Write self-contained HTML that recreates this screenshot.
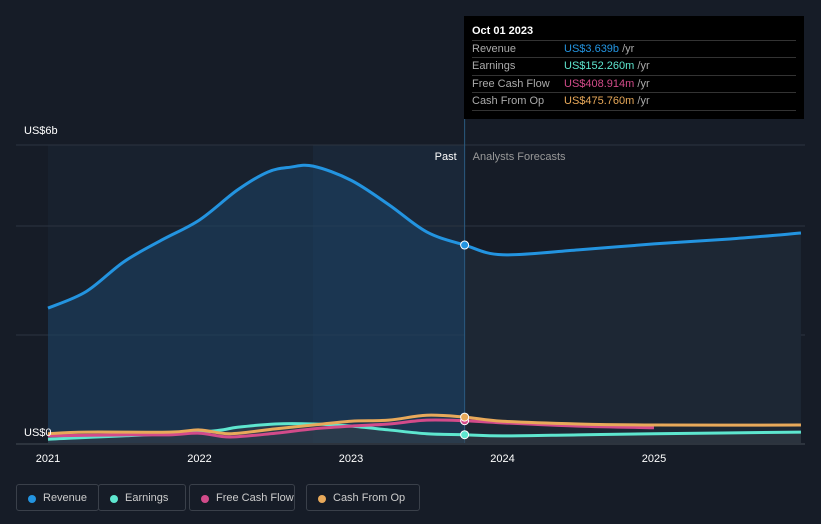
<!DOCTYPE html>
<html><head><meta charset="utf-8"><style>
body{margin:0;width:821px;height:524px;background:#161c27;font-family:"Liberation Sans",sans-serif;overflow:hidden;position:relative}
.tt{position:absolute;left:464px;top:16px;width:340px;height:103px;background:#000;color:#fff;font-size:11px}
.tt .h{position:absolute;left:8px;top:9px;font-weight:bold;font-size:11px}
.row{position:absolute;left:8px;width:324px;border-top:1px solid #333;height:17px;line-height:17px;color:#aaa}
.row span.v{position:absolute;left:92px}
.leg{position:absolute;top:484px;height:27px;border:1px solid #3a404a;border-radius:3px;color:#ccc;font-size:11px;line-height:27px;box-sizing:border-box;padding-left:26px}
.leg i{position:absolute;left:11px;top:10px;width:8px;height:8px;border-radius:50%}
</style></head><body>
<svg id="c" width="821" height="524" style="position:absolute;left:0;top:0"></svg>
<div class="tt">
<div class="h">Oct 01 2023</div>
<div class="row" style="top:24px">Revenue<span class="v"><b style="font-weight:normal;color:#2394e0">US$3.639b</b> /yr</span></div>
<div class="row" style="top:41px">Earnings<span class="v"><b style="font-weight:normal;color:#5ee6cf">US$152.260m</b> /yr</span></div>
<div class="row" style="top:59px">Free Cash Flow<span class="v"><b style="font-weight:normal;color:#d24b8a">US$408.914m</b> /yr</span></div>
<div class="row" style="top:76px;border-bottom:1px solid #333">Cash From Op<span class="v"><b style="font-weight:normal;color:#e8a95a">US$475.760m</b> /yr</span></div>
</div>
<div class="leg" style="left:16px;width:83px"><i style="background:#2394e0"></i>Revenue</div>
<div class="leg" style="left:98px;width:88px"><i style="background:#5ee6cf"></i>Earnings</div>
<div class="leg" style="left:189px;width:106px"><i style="background:#d24b8a"></i>Free Cash Flow</div>
<div class="leg" style="left:306px;width:114px"><i style="background:#e8a95a"></i>Cash From Op</div>
<script>
const revT=[2021,2021.25,2021.5,2021.75,2022,2022.25,2022.45,2022.6,2022.75,2023,2023.25,2023.5,2023.75,2024,2024.5,2025,2025.5,2025.97];
const revV=[2.48,2.78,3.33,3.73,4.1,4.65,4.98,5.07,5.09,4.83,4.38,3.88,3.639,3.46,3.55,3.66,3.75,3.86];
const earnT=[2021,2022,2022.25,2022.5,2022.75,2023,2023.25,2023.5,2023.75,2024,2024.5,2025,2025.97];
const earnV=[0.07,0.2,0.29,0.35,0.35,0.31,0.24,0.17,0.152,0.13,0.15,0.17,0.2];
const fcfT=[2021,2021.5,2021.8,2022,2022.2,2022.5,2022.75,2023,2023.25,2023.5,2023.75,2024,2024.5,2025];
const fcfV=[0.13,0.15,0.15,0.18,0.11,0.18,0.26,0.31,0.35,0.42,0.409,0.37,0.31,0.28];
const cfoT=[2021,2021.25,2021.8,2022,2022.2,2022.5,2022.75,2023,2023.25,2023.5,2023.75,2024,2024.5,2025,2025.97];
const cfoV=[0.17,0.2,0.2,0.24,0.17,0.26,0.33,0.4,0.42,0.51,0.476,0.4,0.35,0.33,0.33];
const years=[2021,2022,2023,2024,2025];
const NOW=2023.75;
const X=t=>48+(t-2021)*151.5, Y=v=>443-v*54.4;
const svg=document.getElementById('c'),NS='http://www.w3.org/2000/svg';
function el(tag,a,name){const e=document.createElementNS(NS,tag);for(const k in a)e.setAttribute(k,a[k]);


svg.appendChild(e);return e;}
function pts(T,V){return T.map((t,i)=>[X(t),Y(V[i])]);}
function smooth(p){let d='M'+p[0][0]+','+p[0][1];for(let i=0;i<p.length-1;i++){const p0=p[Math.max(0,i-1)],p1=p[i],p2=p[i+1],p3=p[Math.min(p.length-1,i+2)];
d+=` C${p1[0]+(p2[0]-p0[0])/6},${p1[1]+(p2[1]-p0[1])/6} ${p2[0]-(p3[0]-p1[0])/6},${p2[1]-(p3[1]-p1[1])/6} ${p2[0]},${p2[1]}`;}return d;}
el('rect',{x:X(2021),y:145,width:X(NOW)-X(2021),height:298,fill:'#18212e'},'past-region');
el('rect',{x:313,y:145,width:X(NOW)-313,height:298,fill:'#1a2738'},'highlight-band');
[145,226,335].forEach(y=>el('line',{x1:16,x2:805,y1:y,y2:y,stroke:'#2c3440'},'gridline'));
const rp=pts(revT,revV);const rd=smooth(rp);
const defs=el('defs',{},'defs');
defs.innerHTML='<clipPath id="cp"><rect x="0" y="0" width="'+X(NOW)+'" height="524"/></clipPath><clipPath id="cf"><rect x="'+X(NOW)+'" y="0" width="400" height="524"/></clipPath>';
const area=rd+` L${rp[rp.length-1][0]},443 L${rp[0][0]},443Z`;
el('path',{d:area,fill:'#1d4466',opacity:0.55,'clip-path':'url(#cp)'},'revenue-area-past');
el('path',{d:area,fill:'#1d2734',opacity:1,'clip-path':'url(#cf)'},'revenue-area-forecast');
el('line',{x1:X(NOW),x2:X(NOW),y1:16,y2:443,stroke:'#2a5a80'},'now-line');
const ep=pts(earnT,earnV);
el('path',{d:smooth(ep)+` L${ep[ep.length-1][0]},443 L${ep[0][0]},443Z`,fill:'#3a3f48',opacity:0.5},'earnings-area');
el('path',{d:rd,fill:'none',stroke:'#2394e0','stroke-width':3},'revenue-line');
el('path',{d:smooth(ep),fill:'none',stroke:'#5ee6cf','stroke-width':3},'earnings-line');
el('path',{d:smooth(pts(fcfT,fcfV)),fill:'none',stroke:'#d24b8a','stroke-width':3},'fcf-line');
el('path',{d:smooth(pts(cfoT,cfoV)),fill:'none',stroke:'#e8a95a','stroke-width':3},'cfo-line');
el('line',{x1:16,x2:805,y1:444,y2:444,stroke:'#444b55'},'x-axis');
[[revV[12],'#2394e0'],[earnV[8],'#5ee6cf'],[fcfV[10],'#d24b8a'],[cfoV[10],'#e8a95a']].forEach(([v,c])=>el('circle',{cx:X(NOW),cy:Y(v),r:4,fill:c,stroke:'#fff','stroke-width':1},'marker'));
years.forEach(y=>{const t=el('text',{x:X(y),y:462,fill:'#fff','font-size':11,'text-anchor':'middle'},'x-tick');t.textContent=y;});
let t=el('text',{x:24,y:134,fill:'#fff','font-size':11},'y-label-top');t.textContent='US$6b';
t=el('text',{x:24,y:436,fill:'#fff','font-size':11},'y-label-zero');t.textContent='US$0';
t=el('text',{x:X(NOW)-8,y:160,fill:'#fff','font-size':11,'text-anchor':'end'},'past-label');t.textContent='Past';
t=el('text',{x:X(NOW)+8,y:160,fill:'#999','font-size':11},'forecast-label');t.textContent='Analysts Forecasts';
</script>
</body></html>
